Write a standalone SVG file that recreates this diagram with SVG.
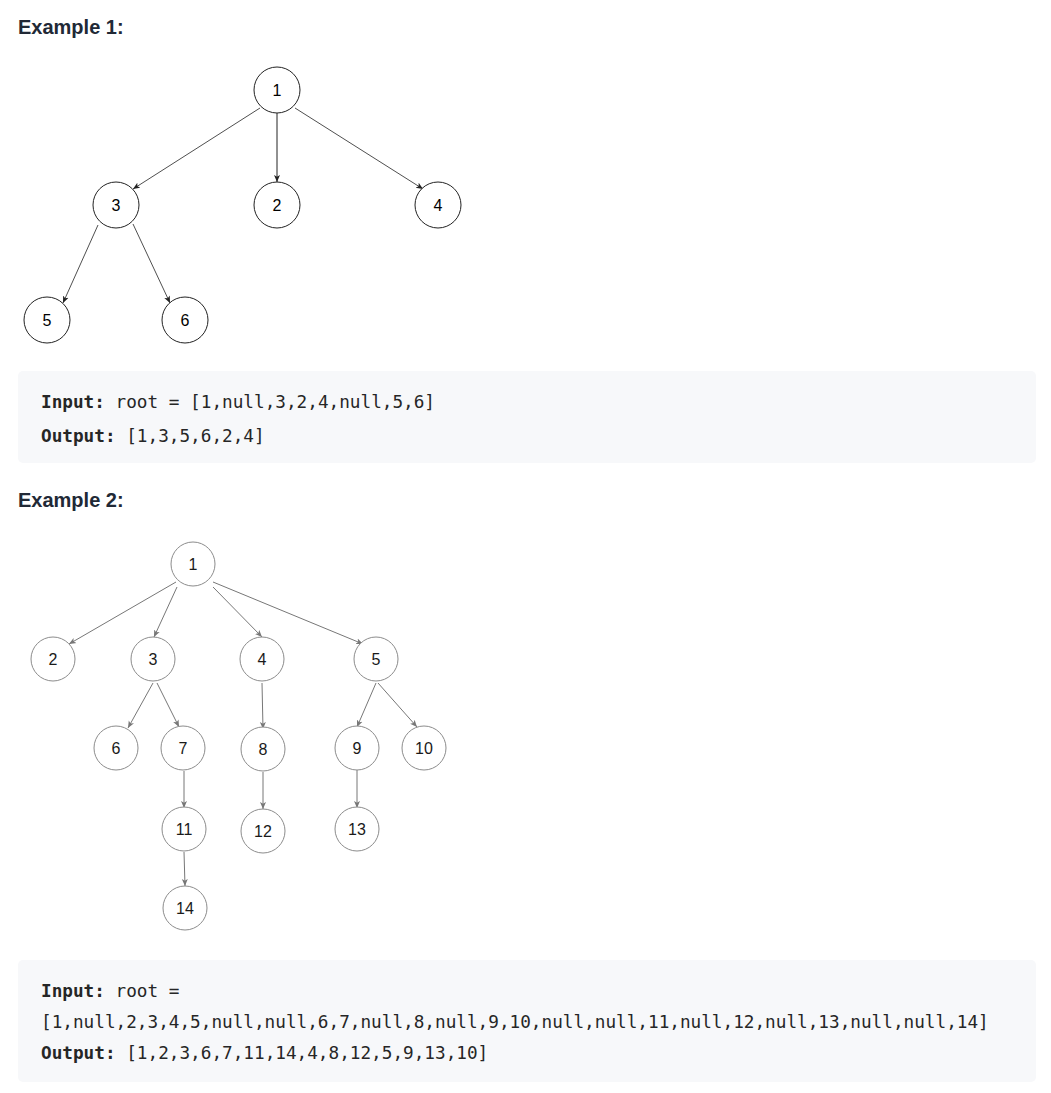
<svg xmlns="http://www.w3.org/2000/svg" width="1051" height="1093" viewBox="0 0 1051 1093">
<style>
.h{font-family:"Liberation Sans",Arial,sans-serif;font-weight:bold;font-size:20px;fill:#212936}
.code{font-family:"DejaVu Sans Mono","Liberation Mono",monospace;font-size:17.7px;fill:#262626}
.b{font-weight:bold}
.box{fill:#f7f8fa}
.t1c{fill:#fff;stroke:#222;stroke-width:1}
.t1t{font-family:"Liberation Sans",Arial,sans-serif;font-size:16px;fill:#000;text-anchor:middle}
.t2c{fill:#fff;stroke:#8c8c8c;stroke-width:1}
.t2t{font-family:"Liberation Sans",Arial,sans-serif;font-size:16px;fill:#1a1a1a;text-anchor:middle}
.e1 line{stroke:#222;stroke-width:0.8;marker-end:url(#a1)}
.e2 line{stroke:#777;stroke-width:1;marker-end:url(#a2)}
</style>
<defs>
<marker id="a1" markerUnits="userSpaceOnUse" markerWidth="8" markerHeight="8" refX="7" refY="3.5" orient="auto"><path d="M0,0.5 L7,3.5 L0,6.5 L1.8,3.5 z" fill="#222"/></marker>
<marker id="a2" markerUnits="userSpaceOnUse" markerWidth="8" markerHeight="8" refX="7" refY="3.5" orient="auto"><path d="M0,0.5 L7,3.5 L0,6.5 L1.8,3.5 z" fill="#777"/></marker>
</defs>
<rect width="1051" height="1093" fill="#fff"/>
<text class="h" x="18" y="34">Example 1:</text>
<g id="edges1" class="e1">
<line x1="260" y1="108" x2="133" y2="189"/>
<line x1="277" y1="113" x2="277" y2="182" style="stroke-width:1"/>
<line x1="295" y1="108" x2="423" y2="189"/>
<line x1="98" y1="225" x2="63" y2="303"/>
<line x1="133" y1="224" x2="170" y2="303"/>
</g>
<g id="t1n1"><circle class="t1c" cx="277" cy="90" r="23"/><text class="t1t" x="277" y="96">1</text></g>
<g id="t1n3"><circle class="t1c" cx="116" cy="205" r="23"/><text class="t1t" x="116" y="211">3</text></g>
<g id="t1n2"><circle class="t1c" cx="277" cy="205" r="23"/><text class="t1t" x="277" y="211">2</text></g>
<g id="t1n4"><circle class="t1c" cx="438" cy="205" r="23"/><text class="t1t" x="438" y="211">4</text></g>
<g id="t1n5"><circle class="t1c" cx="47" cy="320" r="23"/><text class="t1t" x="47" y="326">5</text></g>
<g id="t1n6"><circle class="t1c" cx="185" cy="320" r="23"/><text class="t1t" x="185" y="326">6</text></g>
<rect class="box" x="18" y="371" width="1018" height="92" rx="5"/>
<text class="code" x="41" y="408"><tspan class="b">Input:</tspan> root = [1,null,3,2,4,null,5,6]</text>
<text class="code" x="41" y="442"><tspan class="b">Output:</tspan> [1,3,5,6,2,4]</text>
<text class="h" x="18" y="507">Example 2:</text>
<g id="edges2" class="e2">
<line x1="176" y1="582" x2="69" y2="644"/>
<line x1="177" y1="587" x2="154" y2="637"/>
<line x1="213" y1="587" x2="262" y2="637"/>
<line x1="213" y1="582" x2="363" y2="644"/>
<line x1="153" y1="683" x2="128" y2="728"/>
<line x1="157" y1="683" x2="179" y2="727"/>
<line x1="262" y1="683" x2="263" y2="729"/>
<line x1="376" y1="683" x2="357" y2="727"/>
<line x1="378" y1="683" x2="417" y2="727"/>
<line x1="184" y1="771" x2="184" y2="808"/>
<line x1="263" y1="772" x2="263" y2="809"/>
<line x1="357" y1="770" x2="357" y2="808"/>
<line x1="184" y1="852" x2="185" y2="886"/>
</g>
<g id="t2n1"><circle class="t2c" cx="193" cy="564" r="22"/><text class="t2t" x="193" y="570">1</text></g>
<g id="t2n2"><circle class="t2c" cx="53" cy="659" r="22"/><text class="t2t" x="53" y="665">2</text></g>
<g id="t2n3"><circle class="t2c" cx="153" cy="659" r="22"/><text class="t2t" x="153" y="665">3</text></g>
<g id="t2n4"><circle class="t2c" cx="262" cy="659" r="22"/><text class="t2t" x="262" y="665">4</text></g>
<g id="t2n5"><circle class="t2c" cx="376" cy="659" r="22"/><text class="t2t" x="376" y="665">5</text></g>
<g id="t2n6"><circle class="t2c" cx="116" cy="748" r="22"/><text class="t2t" x="116" y="754">6</text></g>
<g id="t2n7"><circle class="t2c" cx="183" cy="748" r="22"/><text class="t2t" x="183" y="754">7</text></g>
<g id="t2n8"><circle class="t2c" cx="263" cy="749" r="22"/><text class="t2t" x="263" y="755">8</text></g>
<g id="t2n9"><circle class="t2c" cx="357" cy="748" r="22"/><text class="t2t" x="357" y="754">9</text></g>
<g id="t2n10"><circle class="t2c" cx="424" cy="748" r="22"/><text class="t2t" x="424" y="754">10</text></g>
<g id="t2n11"><circle class="t2c" cx="184" cy="829" r="22"/><text class="t2t" x="184" y="835">11</text></g>
<g id="t2n12"><circle class="t2c" cx="263" cy="831" r="22"/><text class="t2t" x="263" y="837">12</text></g>
<g id="t2n13"><circle class="t2c" cx="357" cy="829" r="22"/><text class="t2t" x="357" y="835">13</text></g>
<g id="t2n14"><circle class="t2c" cx="185" cy="908" r="22"/><text class="t2t" x="185" y="914">14</text></g>
<rect class="box" x="18" y="960" width="1018" height="122" rx="5"/>
<text class="code" x="41" y="997"><tspan class="b">Input:</tspan> root =</text>
<text class="code" x="41" y="1028">[1,null,2,3,4,5,null,null,6,7,null,8,null,9,10,null,null,11,null,12,null,13,null,null,14]</text>
<text class="code" x="41" y="1059"><tspan class="b">Output:</tspan> [1,2,3,6,7,11,14,4,8,12,5,9,13,10]</text>
</svg>
